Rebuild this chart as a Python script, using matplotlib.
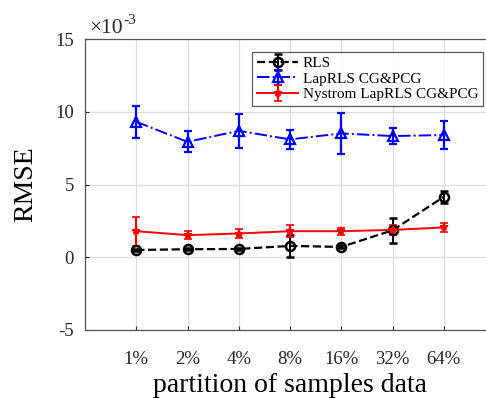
import matplotlib.pyplot as plt
import numpy as np

plt.rcParams['font.family'] = ['Liberation Serif', 'DejaVu Serif']
plt.rcParams['axes.unicode_minus'] = False

partitions = ['1%', '2%', '4%', '8%', '16%', '32%', '64%']

# values in units of 1e-3
rls = [0.50, 0.55, 0.57, 0.78, 0.71, 1.85, 4.15]
rls_err = [0.10, 0.08, 0.08, 0.78, 0.10, 0.85, 0.40]

lap = [9.31, 7.93, 8.69, 8.10, 8.51, 8.33, 8.40]
lap_err = [1.08, 0.73, 1.18, 0.66, 1.43, 0.52, 0.94]

nys = [1.79, 1.52, 1.63, 1.79, 1.79, 1.88, 2.05]
nys_err = [1.00, 0.30, 0.30, 0.40, 0.25, 0.35, 0.30]

x = np.arange(1, len(partitions) + 1)

fig = plt.figure(figsize=(4.86, 3.98), dpi=100)
ax = fig.add_axes([85 / 486, 68 / 398, 410 / 486, 291 / 398])

ax.errorbar(x, rls, yerr=rls_err, color='black', linestyle='--', lw=1.6,
            marker='o', mfc='none', mec='black', ms=6.5, mew=1.8,
            capsize=3, elinewidth=1.4, capthick=1.4, label='RLS', zorder=3)
ax.errorbar(x, lap, yerr=lap_err, color='blue', linestyle='-.', lw=1.4,
            marker='^', mfc='none', mec='blue', ms=7, mew=1.6,
            capsize=3, elinewidth=1.6, capthick=1.6, label='LapRLS CG&PCG', zorder=3)
ax.errorbar(x, nys, yerr=nys_err, color='red', linestyle='-', lw=1.4,
            marker='*', mfc='red', mec='red', ms=6, mew=1.2,
            capsize=3, elinewidth=1.6, capthick=1.6, label='Nystrom LapRLS CG&PCG', zorder=3)

ax.set_xlim(0, 8)
ax.set_ylim(-5, 15)
ax.set_xticks(x)
ax.set_xticklabels(partitions)
ax.set_yticks([-5, 0, 5, 10, 15])
ax.tick_params(direction='in', length=3, labelsize=13.5, colors='#262626', pad=8)
ax.tick_params(axis='x', pad=15)
ax.grid(True, color='#dddddd', lw=0.9)
for s in ax.spines.values():
    s.set_color('#555555')
    s.set_linewidth(0.9)

ax.set_xlabel('partition of samples data', fontsize=20, labelpad=4)
ax.set_ylabel('RMSE', fontsize=20, labelpad=12)

# exponent label
fig.text(89 / 486, 1 - 33 / 398, '\u00d710', fontsize=15.5, ha='left',
         va='baseline', color='#262626')
fig.text(123 / 486, 1 - 24 / 398, '-3', fontsize=11, ha='left',
         va='baseline', color='#262626')

leg = ax.legend(loc='upper right', bbox_to_anchor=(483 / 486, 1 - 52 / 398),
                bbox_transform=fig.transFigure, fontsize=11, frameon=True,
                fancybox=False, edgecolor='#333333', handlelength=2.7,
                borderpad=0.3, labelspacing=0.12, handletextpad=0.3,
                borderaxespad=0)
leg.get_frame().set_linewidth(0.9)

fig.savefig('out.png', dpi=100)
